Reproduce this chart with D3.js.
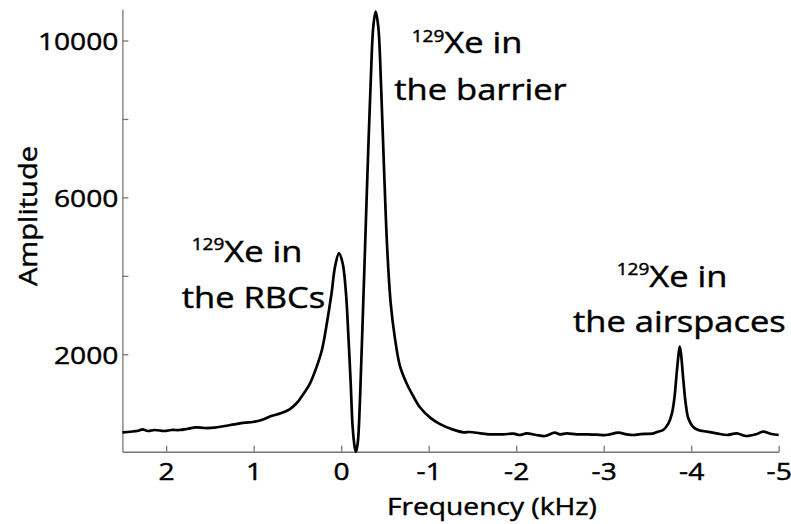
<!DOCTYPE html>
<html>
<head>
<meta charset="utf-8">
<script src="https://cdn.jsdelivr.net/npm/d3@7"></script>
<style>
  body { margin: 0; background: #fff; }
  text { font-family: "Open Sans", sans-serif; fill: #000; stroke: #000; stroke-width: 0.45px; }
</style>
</head>
<body>
<svg id="chart" width="791" height="524"></svg>
<script>
// 129Xe dissolved-phase spectrum: frequency (kHz) and amplitude (a.u.)
const frequency = [2.5, 2.32, 2.27, 2.21, 2.13, 2.02, 1.94, 1.85, 1.75, 1.66, 1.56, 1.45, 1.33, 1.22,
  1.10, 1.01, 0.91, 0.80, 0.69, 0.59, 0.51, 0.44, 0.36, 0.28, 0.22, 0.17, 0.11, 0.07, 0.025,
  -0.017, -0.055, -0.081, -0.109, -0.131, -0.154, -0.169, -0.189, -0.215, -0.241, -0.272, -0.303,
  -0.337, -0.367, -0.394, -0.424, -0.455, -0.489, -0.527, -0.566, -0.615, -0.672, -0.75, -0.82,
  -0.90, -1.02, -1.13, -1.28, -1.40, -1.47, -1.59, -1.70, -1.85, -1.97, -2.04, -2.12, -2.23,
  -2.33, -2.44, -2.50, -2.58, -2.69, -2.81, -2.92, -3.03, -3.17, -3.26, -3.34, -3.42, -3.57,
  -3.62, -3.68, -3.74, -3.78, -3.81, -3.834, -3.857, -3.869, -3.883, -3.91, -3.937, -3.967,
  -4.02, -4.08, -4.18, -4.29, -4.41, -4.52, -4.63, -4.75, -4.82, -4.92, -5.0];

const amplitude = [11, 52, 88, 45, 70, 45, 70, 70, 103, 139, 121, 129, 172, 215,
  256, 274, 325, 427, 496, 598, 751, 962, 1240, 1684, 2110, 2703, 3555, 4234, 4575,
  4320, 3555, 2535, 1260, 154, -356, -483, -270, 835, 2535, 4659, 6783,
  8909, 10352, 10734, 10352, 8909, 6783, 4659, 3300, 2400, 1700, 1250, 950,
  650, 380, 220, 80, 11, 19, -15, -40, -40, -24, -57, -15, -57,
  -83, 1, -40, -15, -40, -40, -49, -57, 1, -40, -57, -35, -15,
  27, 70, 240, 496, 920, 1515, 2024, 2194, 2024, 1345, 750, 368,
  154, 70, 27, -15, -57, -15, -83, -32, 27, -32, -57];

const xTickValues = [2, 1, 0, -1, -2, -3, -4, -5];
const yTickValues = [2000, 4000, 6000, 8000, 10000];
const yTickLabels = ["2000", "", "6000", "", "10000"];

const xTitle = "Frequency (kHz)";
const yTitle = "Amplitude";

// peak annotations: isotope mass number, first line, second line
const peakIsotope = ["129", "129", "129"];
const peakLine1 = ["Xe in", "Xe in", "Xe in"];
const peakLine2 = ["the RBCs", "the barrier", "the airspaces"];

// ---- layout ----
const svg = d3.select("#chart");
const stretch = 1.15;           // horizontal glyph widening of the typeface
const axisColor = "#777";

const x = d3.scaleLinear().domain([2.5, -5]).range([122.4, 778.7]);
const y = d3.scaleLinear().domain([-483, 10795]).range([451.7, 9.3]);

const data = frequency.map((f, i) => ({ f, a: amplitude[i] }));

// x axis
const gx = svg.append("g")
  .attr("transform", `translate(0,${y.range()[0]})`)
  .call(d3.axisBottom(x).tickValues(xTickValues).tickFormat(d3.format("d"))
    .tickSizeInner(-6).tickSizeOuter(0));
gx.select(".domain").attr("stroke", axisColor).attr("stroke-width", 1.6);
gx.selectAll(".tick line").attr("stroke", axisColor).attr("stroke-width", 1.3);
gx.selectAll(".tick text")
  .attr("font-family", "Open Sans, sans-serif")
  .attr("font-size", 24.5)
  .attr("fill", "#000")
  .attr("y", 0).attr("dy", 0)
  .attr("transform", `translate(0,28.3) scale(${stretch},1)`)
  .text(d => d3.format("d")(d).replace("−", "-"));

// y axis
const gy = svg.append("g")
  .attr("transform", `translate(${x.range()[0]},0)`)
  .call(d3.axisLeft(y).tickValues(yTickValues).tickFormat((d, i) => yTickLabels[i])
    .tickSizeInner(-6).tickSizeOuter(0));
gy.select(".domain").attr("stroke", axisColor).attr("stroke-width", 1.3);
gy.selectAll(".tick line").attr("stroke", axisColor).attr("stroke-width", 1.3);
gy.selectAll(".tick text")
  .attr("font-family", "Open Sans, sans-serif")
  .attr("font-size", 24.5)
  .attr("fill", "#000")
  .attr("x", 0).attr("dy", 0)
  .attr("text-anchor", "end")
  .attr("transform", `translate(-4,9) scale(${stretch},1)`);

// axis titles
svg.append("text")
  .attr("transform", `translate(387,515) scale(${stretch},1)`)
  .attr("font-size", 24.5)
  .text(xTitle);

svg.append("text")
  .attr("transform", `translate(36.5,216) rotate(-90) scale(1.12,1)`)
  .attr("text-anchor", "middle")
  .attr("font-size", 26)
  .text(yTitle);

// spectrum trace
const line = d3.line()
  .x(d => x(d.f))
  .y(d => y(d.a))
  .curve(d3.curveCatmullRom.alpha(0.5));

svg.append("path")
  .datum(data)
  .attr("fill", "none")
  .attr("stroke", "#000")
  .attr("stroke-width", 2.7)
  .attr("stroke-linejoin", "round")
  .attr("d", line);

// annotations (pixel anchors of each two-line label)
const labelPos = [
  { x1: 191.7, y1: 261.7, x2: 181.7, y2: 308.3 },
  { x1: 411.7, y1: 53.3,  x2: 394.3, y2: 100 },
  { x1: 616.7, y1: 286.7, x2: 573,   y2: 331.7 }
];
const labelSize = 30, supSize = 16.5, supRise = 11.7;

labelPos.forEach((p, i) => {
  const t1 = svg.append("text")
    .attr("transform", `translate(${p.x1},${p.y1}) scale(${stretch},1)`)
    .attr("font-size", labelSize);
  t1.append("tspan").attr("font-size", supSize).attr("dy", -supRise).text(peakIsotope[i]);
  t1.append("tspan").attr("dy", supRise).text(peakLine1[i]);

  svg.append("text")
    .attr("transform", `translate(${p.x2},${p.y2}) scale(${stretch},1)`)
    .attr("font-size", labelSize)
    .text(peakLine2[i]);
});
</script>
</body>
</html>
